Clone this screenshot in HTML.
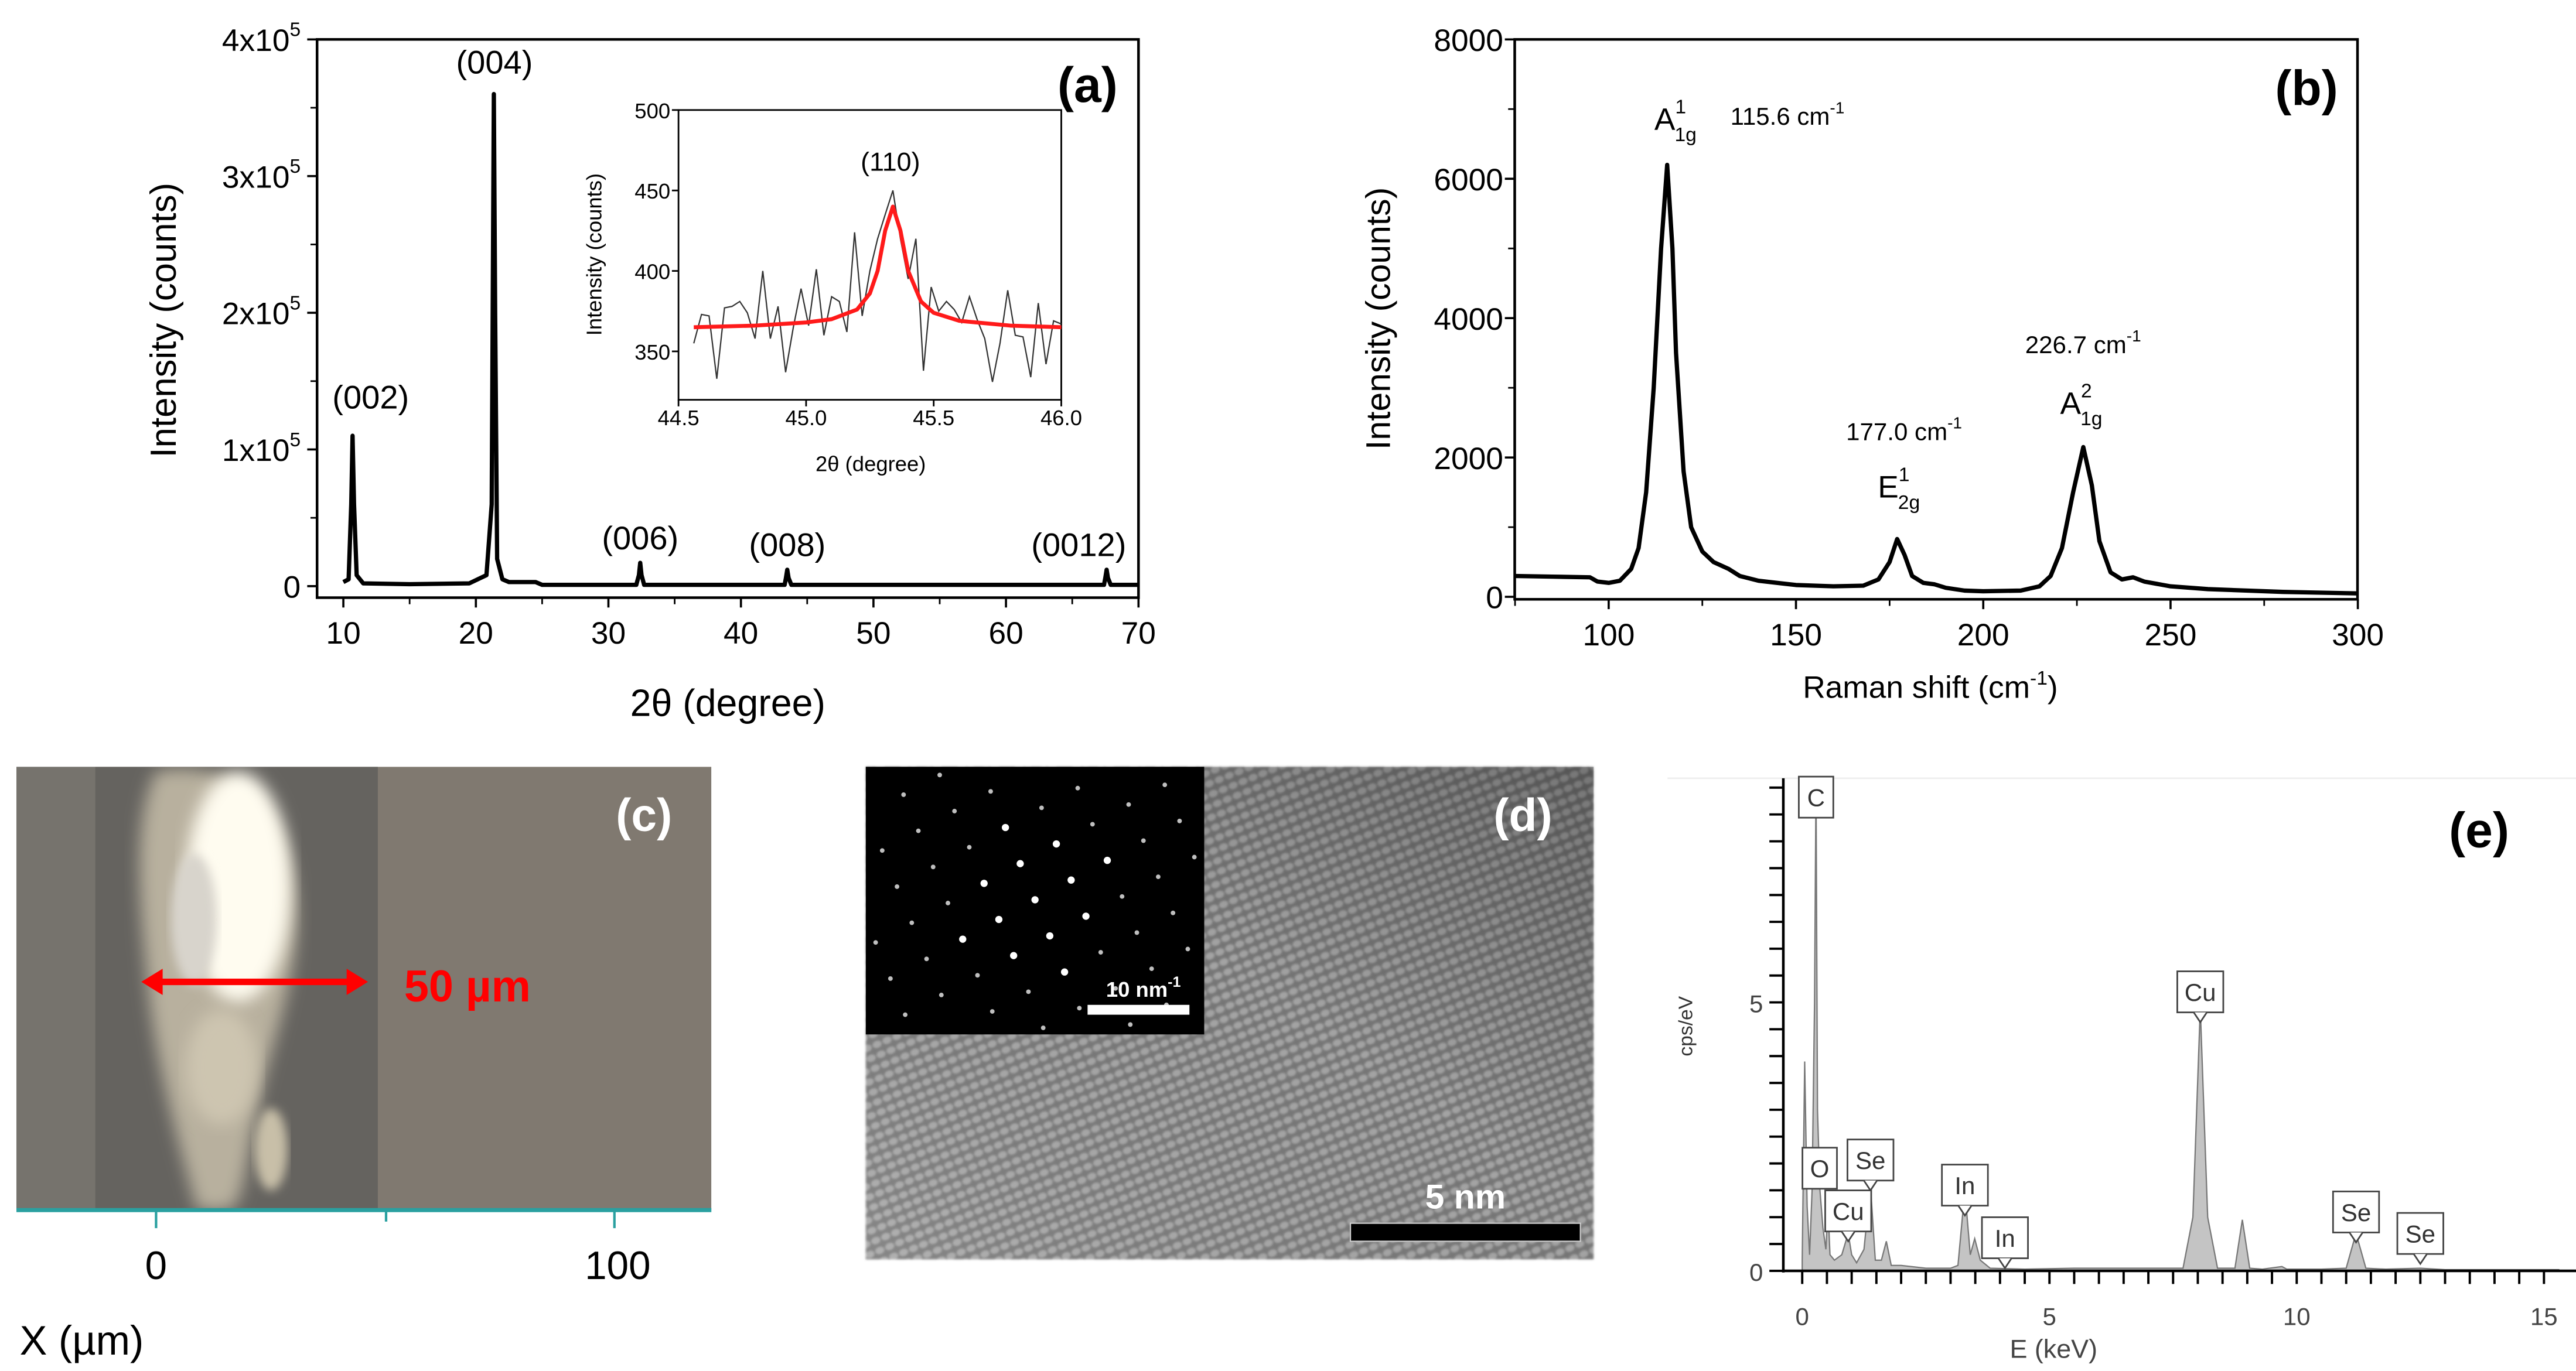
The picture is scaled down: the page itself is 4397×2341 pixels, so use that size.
<!DOCTYPE html>
<html><head><meta charset="utf-8">
<style>
html,body{margin:0;padding:0;background:#fff;}
svg{display:block;}
text{font-family:"Liberation Sans",Arial,sans-serif;}
</style></head>
<body>
<svg id="fig" xmlns="http://www.w3.org/2000/svg" width="4397" height="2341" viewBox="0 0 1568 835" preserveAspectRatio="none">
<defs>
  <filter id="blur8"><feGaussianBlur stdDeviation="8"/></filter>
  <filter id="blur5"><feGaussianBlur stdDeviation="5"/></filter>
  <filter id="blur3"><feGaussianBlur stdDeviation="3"/></filter>
  <filter id="blurL"><feGaussianBlur stdDeviation="0.7"/></filter>
  <clipPath id="clipC"><rect x="10" y="467" width="423" height="270"/></clipPath>
  <pattern id="lattice" width="6.5" height="6.5" patternUnits="userSpaceOnUse" patternTransform="rotate(-22)">
    <rect width="6.5" height="6.5" fill="#7a7a7a"/>
    <ellipse cx="3.25" cy="3.25" rx="2.8" ry="2.1" fill="#a8a8a8"/>
  </pattern>
  <linearGradient id="temShade" x1="0" y1="1" x2="1" y2="0">
    <stop offset="0" stop-color="#ffffff" stop-opacity="0.1"/>
    <stop offset="0.55" stop-color="#000000" stop-opacity="0.03"/>
    <stop offset="1" stop-color="#000000" stop-opacity="0.3"/>
  </linearGradient>
</defs>
<g id="panelA"></g>
<g id="panelB"></g>
<g id="panelC" clip-path="url(#clipC)">
  <rect x="10" y="467" width="423" height="270" fill="#807970"/>
  <rect x="10" y="467" width="48" height="270" fill="#76736d"/>
  <rect x="58" y="467" width="172" height="270" fill="#65635f"/>
  <path d="M95,470 C120,465 160,470 175,520 C190,570 170,620 160,660 C150,700 150,730 140,737 L120,737 C110,700 95,650 90,600 C85,550 80,500 95,470 Z" fill="#b8b09e" filter="url(#blur5)"/>
  <ellipse cx="145" cy="540" rx="32" ry="70" fill="#fffcf0" filter="url(#blur5)"/>
  <ellipse cx="118" cy="560" rx="14" ry="40" fill="#d8d4cc" filter="url(#blur3)"/>
  <ellipse cx="135" cy="650" rx="22" ry="35" fill="#cdc5b0" filter="url(#blur5)"/>
  <ellipse cx="165" cy="700" rx="10" ry="25" fill="#c8bfa8" filter="url(#blur3)"/>
  <line x1="92" y1="598" x2="218" y2="598" stroke="#ff0000" stroke-width="4"/>
  <polygon points="86,598 99,590 99,606" fill="#ff0000"/>
  <polygon points="224,598 211,590 211,606" fill="#ff0000"/>
  <text x="246" y="610" font-size="27" font-weight="bold" fill="#ff0000">50 µm</text>
  <text x="392" y="506" font-size="28" font-weight="bold" fill="#ffffff" text-anchor="middle">(c)</text>
</g>
<g id="panelCaxis">
  <line x1="10" y1="737" x2="433" y2="737" stroke="#2aa0a0" stroke-width="2.5"/>
  <line x1="95" y1="737" x2="95" y2="748" stroke="#2aa0a0" stroke-width="1.5"/>
  <line x1="235" y1="737" x2="235" y2="744" stroke="#2aa0a0" stroke-width="1.5"/>
  <line x1="374" y1="737" x2="374" y2="748" stroke="#2aa0a0" stroke-width="1.5"/>
  <text x="95" y="779" font-size="24" text-anchor="middle">0</text>
  <text x="376" y="779" font-size="24" text-anchor="middle">100</text>
  <text x="12" y="825" font-size="25">X (µm)</text>
</g>
<g id="panelD">
  <rect x="527" y="467" width="443" height="300" fill="url(#lattice)" filter="url(#blurL)"/>
  <rect x="527" y="467" width="443" height="300" fill="url(#temShade)"/>
  <rect x="527" y="467" width="206" height="163" fill="#000"/>
  <g id="spots"></g>
  <text x="696" y="607" font-size="13" font-weight="bold" fill="#fff" text-anchor="middle">10 nm<tspan font-size="9" dy="-6">-1</tspan></text>
  <rect x="662" y="612" width="62" height="6" fill="#fff"/>
  <text x="892" y="736" font-size="21" font-weight="bold" fill="#fff" text-anchor="middle">5 nm</text>
  <rect x="822" y="745" width="140" height="11" fill="#000" stroke="#ccc" stroke-width="0.8"/>
  <text x="927" y="506" font-size="28" font-weight="bold" fill="#fff" text-anchor="middle">(d)</text>
</g>
<g id="panelE"></g>
</svg>
<script>
const NS="http://www.w3.org/2000/svg";
function mk(parent,tag,attrs,txt){const e=document.createElementNS(NS,tag);for(const k in attrs)e.setAttribute(k,attrs[k]);if(txt!==undefined)e.textContent=txt;parent.appendChild(e);return e;}

// ---- Panel (a) XRD data ----
const xrdX=[10,10.4,10.6,10.7,10.8,11.0,11.5,15,19.5,20.8,21.2,21.35,21.45,21.6,22,22.5,24.5,25,32.1,32.3,32.4,32.5,32.7,43.3,43.4,43.5,43.6,43.8,67.4,67.5,67.6,67.7,67.9,70];
const xrdY=[3000,5000,60000,110000,60000,8000,2000,1500,2000,8000,60000,360000,200000,20000,5000,3000,3000,1000,1000,8000,17000,8000,1000,1000,6000,12000,6000,1000,1000,6000,12000,6000,1000,1000];
const xrdXTicks=[10,20,30,40,50,60,70];
const xrdYTicks=[0,100000,200000,300000,400000];
const xrdYTickLabels=["0","1x10","2x10","3x10","4x10"];
const peakLabels=["(002)","(004)","(006)","(008)","(0012)"];
const peakPos=[10.7,21.4,32.4,43.5,67.6];
const peakLabelVal=[130000,375000,27000,22000,22000];
const insetX=[44.56,44.59,44.62,44.65,44.68,44.71,44.74,44.77,44.80,44.83,44.86,44.89,44.92,44.95,44.98,45.01,45.04,45.07,45.10,45.13,45.16,45.19,45.22,45.25,45.28,45.31,45.34,45.37,45.40,45.43,45.46,45.49,45.52,45.55,45.58,45.61,45.64,45.67,45.70,45.73,45.76,45.79,45.82,45.85,45.88,45.91,45.94,45.97,46.0];
const insetY=[355,373,372,333,377,378,381,374,358,400,358,378,337,365,389,366,401,360,384,381,362,424,372,400,420,435,450,420,395,420,338,390,375,381,376,368,384,370,358,331,355,388,360,359,334,380,342,369,367];
const fitX=[44.56,44.8,45.0,45.1,45.2,45.25,45.28,45.31,45.34,45.37,45.40,45.45,45.5,45.6,45.8,46.0];
const fitY=[365,366,368,370,376,386,400,425,440,425,400,381,374,369,366,365];
const insetXTicks=[44.5,45.0,45.5,46.0];
const insetYTicks=[350,400,450,500];

// ---- Panel (b) Raman data ----
const ramX=[75,85,95,97,100,103,106,108,110,112,114,115.6,117,118,120,122,125,128,132,135,140,150,160,168,172,175,177,179,181,184,187,190,195,200,210,215,218,221,224,226.7,229,231,234,237,240,243,250,260,280,300];
const ramY=[300,290,280,220,200,230,400,700,1500,3000,5000,6200,5000,3500,1800,1000,650,500,400,300,230,170,150,160,250,500,830,600,300,200,180,130,90,80,90,150,300,700,1500,2150,1600,800,350,250,280,220,150,110,70,50];
const ramXTicks=[100,150,200,250,300];
const ramYTicks=[0,2000,4000,6000,8000];

// ---- Panel (e) EDS data ----
const edsX=[0,0.05,0.1,0.15,0.2,0.25,0.28,0.31,0.36,0.42,0.48,0.52,0.56,0.65,0.8,0.93,1.0,1.1,1.25,1.38,1.48,1.6,1.7,1.8,2.0,2.5,3.0,3.15,3.29,3.4,3.49,3.6,3.8,4.5,5.5,7.7,7.9,8.05,8.2,8.4,8.75,8.9,9.05,9.3,9.7,9.8,10.5,11.0,11.2,11.4,11.8,12.5,13,15.3];
const edsY=[0.2,3.9,1.2,0.3,1.5,5,9.2,3,1.5,0.8,0.4,1.2,0.3,0.2,0.3,0.7,0.3,0.15,0.4,1.6,0.2,0.2,0.55,0.1,0.1,0.05,0.05,0.1,1.5,0.3,0.6,0.2,0.05,0.03,0.05,0.05,1,4.9,1,0.05,0.05,0.95,0.05,0.03,0.08,0.03,0.03,0.05,0.7,0.05,0.03,0.05,0.02,0.02];
const edsLabels=["C","O","Se","Cu","In","In","Cu","Se","Se"];
const edsLabelE=[0.28,0.42,1.38,0.93,3.29,4.1,8.05,11.2,12.5];
const edsLabelV=[9.2,1.8,1.5,0.55,1.0,0.02,4.6,0.5,0.1];
const edsXTicks=[0,5,10,15];
const edsYTicks=[0,5];

// ===== Draw panel A =====
(function(){
const g=document.getElementById('panelA');
const xa=v=>209+(v-10)*(484/60), ya=v=>357-v/400000*333;
const L=193,R=693,T=24,B=364;
let r=mk(g,'rect',{x:L,y:T,width:R-L,height:B-T,fill:'none',stroke:'#000','stroke-width':1.6});

xrdXTicks.forEach(v=>{const t=mk(g,'line',{x1:xa(v),x2:xa(v),y1:B,y2:B+6,stroke:'#000','stroke-width':1.3});

const l=mk(g,'text',{x:xa(v),y:392,'font-size':19,'text-anchor':'middle'},String(v));

if(v<70){const m=mk(g,'line',{x1:xa(v+5),x2:xa(v+5),y1:B,y2:B+4,stroke:'#000','stroke-width':1});
}});
xrdYTicks.forEach((v,i)=>{const t=mk(g,'line',{x1:L-6,x2:L,y1:ya(v),y2:ya(v),stroke:'#000','stroke-width':1.3});

const l=mk(g,'text',{x:L-10,y:ya(v)+7,'font-size':19,'text-anchor':'end'});

l.textContent=xrdYTickLabels[i];if(i>0){mk(l,'tspan',{'font-size':12,dy:-9},'5');}
if(v<400000){const m=mk(g,'line',{x1:L-4,x2:L,y1:ya(v+50000),y2:ya(v+50000),stroke:'#000','stroke-width':1});
}});
let p=mk(g,'path',{d:xrdX.map((x,i)=>(i?'L':'M')+xa(x).toFixed(1)+','+ya(xrdY[i]).toFixed(1)).join(''),fill:'none',stroke:'#000','stroke-width':2.6,'stroke-linejoin':'round'});

peakLabels.forEach((s,i)=>{const t=mk(g,'text',{x:xa(peakPos[i])+ (i===0?11:(i===4?-17:0)),y:ya(peakLabelVal[i]),'font-size':20,'text-anchor':'middle'},s);
});
let tt=mk(g,'text',{x:0,y:0,'font-size':22,'text-anchor':'middle',transform:'translate(107,195) rotate(-90)'},'Intensity (counts)');

tt=mk(g,'text',{x:443,y:436,'font-size':23,'text-anchor':'middle'},'2θ (degree)');

tt=mk(g,'text',{x:662,y:62,'font-size':30,'font-weight':'bold','text-anchor':'middle'},'(a)');

// inset
const xi=v=>413+(v-44.5)*(233/1.5), yi=v=>67+(500-v)*0.98;
const IL=413,IR=646,IT=67,IB=243.5;
r=mk(g,'rect',{x:IL,y:IT,width:IR-IL,height:IB-IT,fill:'#fff',stroke:'#000','stroke-width':1});

insetXTicks.forEach(v=>{const t=mk(g,'line',{x1:xi(v),x2:xi(v),y1:IB,y2:IB+4,stroke:'#000','stroke-width':1});

const l=mk(g,'text',{x:xi(v),y:259,'font-size':13,'text-anchor':'middle'},v.toFixed(1));
});
insetYTicks.forEach(v=>{const t=mk(g,'line',{x1:IL-4,x2:IL,y1:yi(v),y2:yi(v),stroke:'#000','stroke-width':1});

const l=mk(g,'text',{x:IL-5,y:yi(v)+5,'font-size':13,'text-anchor':'end'},String(v));
});
p=mk(g,'path',{d:insetX.map((x,i)=>(i?'L':'M')+xi(x).toFixed(1)+','+yi(insetY[i]).toFixed(1)).join(''),fill:'none',stroke:'#333','stroke-width':0.8});

p=mk(g,'path',{d:fitX.map((x,i)=>(i?'L':'M')+xi(x).toFixed(1)+','+yi(fitY[i]).toFixed(1)).join(''),fill:'none',stroke:'#ff1a1a','stroke-width':2.4,'stroke-linejoin':'round'});

tt=mk(g,'text',{x:542,y:104,'font-size':16,'text-anchor':'middle'},'(110)');

tt=mk(g,'text',{x:0,y:0,'font-size':13,'text-anchor':'middle',transform:'translate(366,155) rotate(-90)'},'Intensity (counts)');

tt=mk(g,'text',{x:530,y:287,'font-size':13,'text-anchor':'middle'},'2θ (degree)');

})();

// ===== Draw panel B =====
(function(){
const g=document.getElementById('panelB');
const xb=v=>979.2+(v-100)*2.28, yb=v=>363.5-v/8000*339.5;
const L=922,R=1435,T=24,B=365;
let r=mk(g,'rect',{x:L,y:T,width:R-L,height:B-T,fill:'none',stroke:'#000','stroke-width':1.6});

ramXTicks.forEach(v=>{const t=mk(g,'line',{x1:xb(v),x2:xb(v),y1:B,y2:B+6,stroke:'#000','stroke-width':1.3});

const l=mk(g,'text',{x:xb(v),y:393,'font-size':19,'text-anchor':'middle'},String(v));

const m=mk(g,'line',{x1:xb(v-25),x2:xb(v-25),y1:B,y2:B+4,stroke:'#000','stroke-width':1});
});
ramYTicks.forEach(v=>{const t=mk(g,'line',{x1:L-6,x2:L,y1:yb(v),y2:yb(v),stroke:'#000','stroke-width':1.3});

const l=mk(g,'text',{x:L-7,y:yb(v)+7,'font-size':19,'text-anchor':'end'},String(v));

if(v<8000){const m=mk(g,'line',{x1:L-4,x2:L,y1:yb(v+1000),y2:yb(v+1000),stroke:'#000','stroke-width':1});
}});
let p=mk(g,'path',{d:ramX.map((x,i)=>(i?'L':'M')+xb(x).toFixed(1)+','+yb(ramY[i]).toFixed(1)).join(''),fill:'none',stroke:'#000','stroke-width':2.6,'stroke-linejoin':'round'});

const ann=[[1015,79,'A','1','1g','a1g-label'],[1151,303,'E','1','2g','e2g-label'],[1262,252,'A','2','1g','a1g2-label']];
ann.forEach(a=>{const t=mk(g,'text',{x:a[0]-8,y:a[1],'font-size':19});

t.appendChild(document.createTextNode(a[2]));
mk(t,'tspan',{'font-size':12,dy:-10},a[3]);mk(t,'tspan',{'font-size':12,dx:-7,dy:17},a[4]);});
[[1088,76,'115.6 cm','wavenumber-115'],[1159,268,'177.0 cm','wavenumber-177'],[1268,215,'226.7 cm','wavenumber-226']].forEach(a=>{
const t=mk(g,'text',{x:a[0],y:a[1],'font-size':15,'text-anchor':'middle'},a[2]);

mk(t,'tspan',{'font-size':10,dy:-7},'-1');});
let tt=mk(g,'text',{x:0,y:0,'font-size':21,'text-anchor':'middle',transform:'translate(846,194) rotate(-90)'},'Intensity (counts)');

tt=mk(g,'text',{x:1175,y:425,'font-size':19,'text-anchor':'middle'},'Raman shift (cm');

mk(tt,'tspan',{'font-size':12,dy:-8},'-1');mk(tt,'tspan',{dy:8},')');
tt=mk(g,'text',{x:1404,y:64,'font-size':30,'font-weight':'bold','text-anchor':'middle'},'(b)');

})();

// ===== Draw panel D spots (decorative lattice) =====
(function(){
const g=document.getElementById('spots');
for(let i=-6;i<=6;i++)for(let j=-6;j<=6;j++){
const x=630+i*22+j*9, y=548+i*-12+j*22;
if(x<531||x>729||y<471||y>626)continue;
const big=Math.abs(i)+Math.abs(j)<3;
const c=mk(g,'circle',{cx:x,cy:y,r:big?2.2:1.4,fill:'#fff',opacity:big?1:0.75});

}
})();

// ===== Draw panel E =====
(function(){
const g=document.getElementById('panelE');
const xe=v=>1097+v*30.1, ye=v=>774-v*32.7;
let l0=mk(g,'line',{x1:1015,x2:1568,y1:474,y2:474,stroke:'#eee','stroke-width':1});

const clip=v=>Math.min(v,9.15);
let area=mk(g,'path',{d:'M'+xe(edsX[0])+','+ye(0)+edsX.map((x,i)=>'L'+xe(x).toFixed(1)+','+ye(clip(edsY[i])).toFixed(1)).join('')+'L'+xe(edsX[edsX.length-1])+','+ye(0)+'Z',fill:'#c4c4c4',stroke:'#777','stroke-width':0.8});

let ax=mk(g,'line',{x1:1085.5,x2:1085.5,y1:474,y2:775,stroke:'#000','stroke-width':1.6});

ax=mk(g,'line',{x1:1085,x2:1568,y1:774,y2:774,stroke:'#000','stroke-width':1.6});

for(let k=0;k<=30;k++){const v=k*0.5;const t=mk(g,'line',{x1:xe(v),x2:xe(v),y1:774,y2:782,stroke:'#000','stroke-width':1.4});
}
for(let k=0;k<=18;k++){const v=k*0.5;const t=mk(g,'line',{x1:1077,x2:1085,y1:ye(v),y2:ye(v),stroke:'#000','stroke-width':1.4});
}
edsXTicks.forEach(v=>{const t=mk(g,'text',{x:xe(v),y:807,'font-size':15,'text-anchor':'middle',fill:'#444'},String(v));
});
edsYTicks.forEach(v=>{const t=mk(g,'text',{x:1069,y:ye(v)+6,'font-size':15,'text-anchor':'middle',fill:'#444'},String(v));
});
let tt=mk(g,'text',{x:1250,y:827,'font-size':16,'text-anchor':'middle',fill:'#444'},'E (keV)');

tt=mk(g,'text',{x:0,y:0,'font-size':12,'text-anchor':'middle',fill:'#333',transform:'translate(1030,625) rotate(-90)'},'cps/eV');

tt=mk(g,'text',{x:1509,y:516,'font-size':30,'font-weight':'bold','text-anchor':'middle'},'(e)');

edsLabels.forEach((s,i)=>{const cx=xe(edsLabelE[i]);const tipY=ye(edsLabelV[i]);
let bx=cx, boxBottom=tipY-7;
if(i===0){boxBottom=498;}
if(i===1){bx=cx-2;boxBottom=724;}
if(i===2){boxBottom=719;}
if(i===3){boxBottom=750;}
const w=s.length>1?28:21, h=25;
const b=mk(g,'rect',{x:bx-w/2,y:boxBottom-h,width:w,height:h,fill:'#fff',stroke:'#444','stroke-width':1});

if(i!==0&&i!==1){const pt=mk(g,'path',{d:'M'+(cx-4)+','+boxBottom+'L'+cx+','+(boxBottom+6)+'L'+(cx+4)+','+boxBottom,fill:'#fff',stroke:'#444','stroke-width':1});
}
const t=mk(g,'text',{x:bx,y:boxBottom-7,'font-size':15,'text-anchor':'middle',fill:'#333'},s);
});
})();
</script>
</body></html>
